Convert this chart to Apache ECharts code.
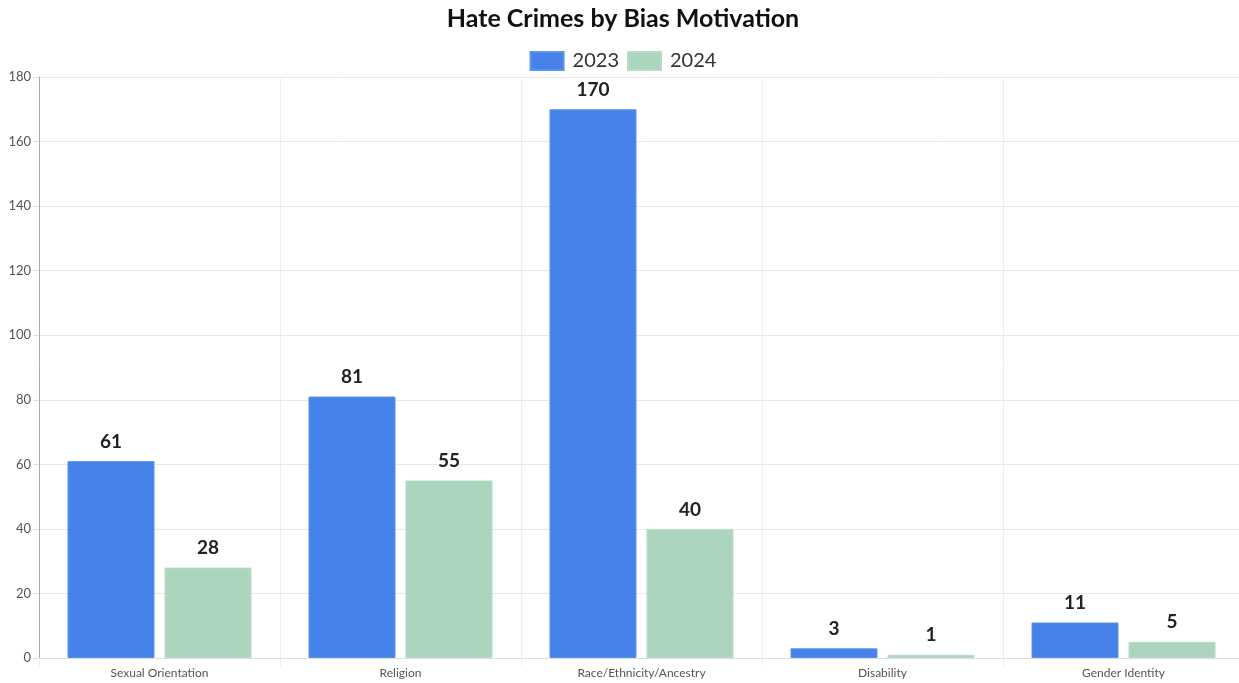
<!DOCTYPE html>
<html><head><meta charset="utf-8">
<script src="https://cdn.jsdelivr.net/npm/echarts@6/dist/echarts.min.js"></script>
<style>html,body{margin:0;padding:0;background:#fff;overflow:hidden}#c{width:1246px;height:683px}</style>
</head><body><div id="c"></div>
<script>
const categories = ["Sexual Orientation", "Religion", "Race/Ethnicity/Ancestry", "Disability", "Gender Identity"];
const values2023 = [61, 81, 170, 3, 11];
const values2024 = [28, 55, 40, 1, 5];
const seriesNames = ["2023", "2024"];
const yTicks = [0, 20, 40, 60, 80, 100, 120, 140, 160, 180];

const chart = echarts.init(document.getElementById('c'), null, {renderer: 'canvas'});
const font = 'Lato, "Noto Sans", sans-serif';
const labelStyle = {show: true, position: 'top', distance: 10, fontFamily: font, fontWeight: 'bold', fontSize: 19, color: '#222'};
chart.setOption({
  animation: false,
  title: {text: 'Hate Crimes by Bias Motivation', left: 'center', top: 1,
    textStyle: {fontFamily: font, fontWeight: 'bold', fontSize: 25, color: '#111'}},
  legend: {top: 46, left: 'center', itemWidth: 33, itemHeight: 18, itemGap: 8,
    icon: 'rect',
    textStyle: {fontFamily: font, fontSize: 20, color: '#333', padding: [0, 0, 0, 4]}, data: seriesNames},
  grid: {left: 39, top: 77, right: 2, bottom: 25, containLabel: false},
  xAxis: {type: 'category', data: categories,
    axisLine: {show: true, lineStyle: {color: '#ddd'}},
    axisTick: {show: true, length: 8, lineStyle: {color: '#eee'}},
    splitLine: {show: true, lineStyle: {color: '#eee'}},
    axisLabel: {fontFamily: font, fontSize: 12, color: '#555', margin: 9}},
  yAxis: {type: 'value', min: yTicks[0], max: yTicks[yTicks.length-1], interval: 20,
    axisLine: {show: true, lineStyle: {color: '#aaa'}},
    axisTick: {show: true, length: 6, lineStyle: {color: '#ddd'}},
    splitLine: {show: true, lineStyle: {color: '#e8e8e8'}},
    axisLabel: {fontFamily: font, fontSize: 13, color: '#555', margin: 8}},
  series: [
    {name: seriesNames[0], type: 'bar', data: values2023, barWidth: 87, barGap: '11.5%',
     itemStyle: {color: '#4682EA', borderColor: '#5b93ee', borderWidth: 1}, label: labelStyle},
    {name: seriesNames[1], type: 'bar', data: values2024, barWidth: 87,
     itemStyle: {color: '#ABD5BD', borderColor: '#b8dcc7', borderWidth: 1}, label: labelStyle}
  ]
});
</script></body></html>
